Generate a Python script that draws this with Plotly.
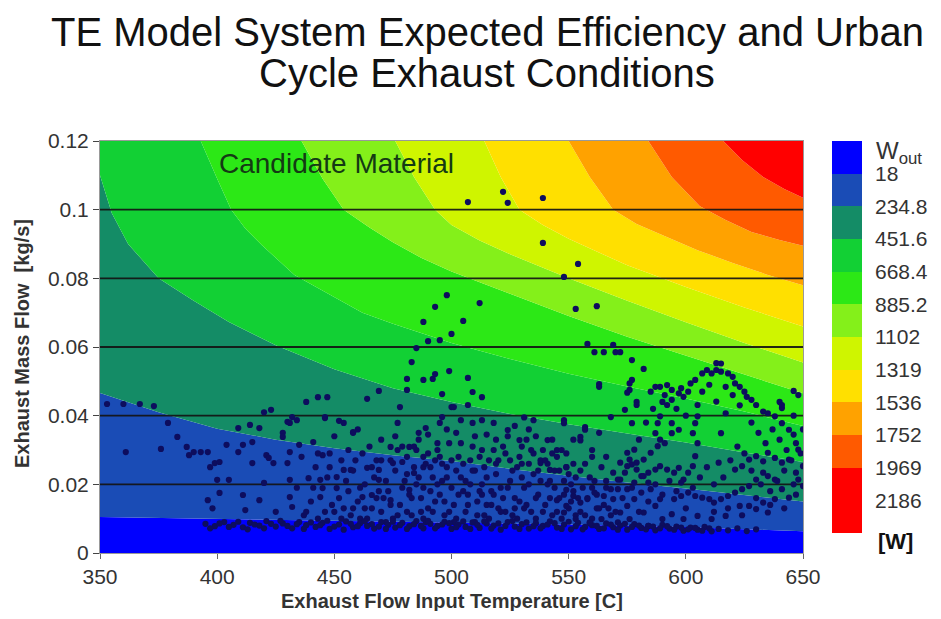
import plotly.graph_objects as go

# ---------------- contour band boundaries (T [C], mass flow [kg/s])
B18_T = [350, 400, 450, 500, 550, 600, 650]
B18_M = [0.0105, 0.0100, 0.0094, 0.0089, 0.0083, 0.0076, 0.0063]

B235_T = [350, 375, 400, 425, 450, 475, 500, 525, 550, 575, 600, 625, 650]
B235_M = [0.0466, 0.0410, 0.0362, 0.0330, 0.0305, 0.0285, 0.0268, 0.0245, 0.0225, 0.0205, 0.0188, 0.0170, 0.0150]

B452_T = [350, 355, 362, 375, 390, 405, 425, 450, 475, 500, 525, 550, 575, 600, 625, 650]
B452_M = [0.110, 0.099, 0.090, 0.080, 0.0735, 0.0673, 0.0605, 0.0535, 0.048, 0.0440, 0.0405, 0.0375, 0.0348, 0.0322, 0.0293, 0.0265]

B668_T = [350, 393, 400, 406, 412, 419, 433, 450, 462, 475, 490, 500, 525, 550, 575, 600, 625, 650]
B668_M = [0.12, 0.12, 0.109, 0.100, 0.0945, 0.0897, 0.081, 0.0745, 0.0700, 0.0668, 0.0635, 0.0612, 0.0565, 0.0522, 0.0485, 0.0450, 0.0412, 0.0370]

B885_T = [350, 436, 445, 454, 465, 475, 487, 500, 525, 550, 575, 600, 625, 650]
B885_M = [0.12, 0.12, 0.109, 0.100, 0.0948, 0.0905, 0.0860, 0.0820, 0.0755, 0.0690, 0.0630, 0.0575, 0.0518, 0.0465]

B1102_T = [350, 476, 484, 493, 500, 512, 525, 550, 575, 600, 625, 650]
B1102_M = [0.12, 0.12, 0.1095, 0.100, 0.0955, 0.0910, 0.0870, 0.0800, 0.0735, 0.0672, 0.0612, 0.0555]

B1319_T = [350, 514, 521, 529, 539, 550, 575, 600, 625, 650]
B1319_M = [0.12, 0.12, 0.1095, 0.100, 0.0955, 0.0915, 0.0838, 0.0775, 0.0715, 0.0660]

B1536_T = [350, 550, 559, 569, 579, 590, 605, 620, 635, 650]
B1536_M = [0.12, 0.12, 0.1095, 0.100, 0.0958, 0.0925, 0.0882, 0.0845, 0.0810, 0.0780]

B1752_T = [350, 584, 594, 606, 617, 628, 640, 650]
B1752_M = [0.12, 0.12, 0.1095, 0.101, 0.0970, 0.0935, 0.0912, 0.0895]

B1969_T = [350, 616, 624, 633, 642, 650]
B1969_M = [0.12, 0.12, 0.1145, 0.1095, 0.1060, 0.1035]

TOP_T = [350, 650]
TOP_M = [0.12, 0.12]

BAND_COLORS = ["#0000FF", "#1A4CB6", "#148C66", "#12D034", "#2CE816",
               "#84F01A", "#CFF500", "#FFE000", "#FFA200", "#FF5A00", "#FF0000"]
LEVEL_LABELS = ["18", "234.8", "451.6", "668.4", "885.2", "1102",
                "1319", "1536", "1752", "1969", "2186"]

X_TICKS = [350, 400, 450, 500, 550, 600, 650]
Y_TICKS = [0, 0.02, 0.04, 0.06, 0.08, 0.1, 0.12]
Y_TICK_TEXT = ["0", "0.02", "0.04", "0.06", "0.08", "0.1", "0.12"]
GRID_VALUES = [0.02, 0.04, 0.06, 0.08, 0.1]

# ---------------- urban cycle exhaust operating points (T, mass flow)
UPPER_PTS = [
    (507, 0.1022), (522, 0.1052), (524, 0.1020), (539, 0.1034), (539, 0.0903),
    (554, 0.0842), (548, 0.0804), (553, 0.0711), (562, 0.0719), (512, 0.0728),
    (505, 0.0676), (500, 0.0638), (558, 0.0609), (561, 0.0585), (565, 0.0585),
    (569, 0.0606), (570, 0.0585), (572, 0.0585), (577, 0.0562), (582, 0.0536),
    (577, 0.0504), (563, 0.0492), (507, 0.0510), (509, 0.0469), (513, 0.0454),
    (576, 0.0475), (579, 0.0440), (646, 0.0472), (640, 0.0440), (498, 0.0751),
    (493, 0.0717), (488, 0.0673), (490, 0.0617), (495, 0.0620), (485, 0.0597),
    (483, 0.0556), (499, 0.0530), (481, 0.0507), (488, 0.0504), (492, 0.0507),
    (493, 0.0521), (481, 0.0475), (469, 0.0472), (496, 0.0463), (464, 0.0449),
    (478, 0.0425), (500, 0.0425), (438, 0.0440), (443, 0.0454), (447, 0.0454),
    (353, 0.0434), (360, 0.0434), (367, 0.0434), (373, 0.0428), (379, 0.0379),
    (420, 0.0410), (423, 0.0417), (432, 0.0396), (430, 0.0382), (409, 0.0364),
    (414, 0.0373), (418, 0.0364), (446, 0.0393), (452, 0.0385), (477, 0.0379),
    (458, 0.0352), (613, 0.0553), (641, 0.0422),
]

LEFT_PTS = [
    (383, 0.0338), (361, 0.0294), (376, 0.0303), (387, 0.0309), (390, 0.0294),
    (393, 0.0294), (396, 0.0294), (388, 0.0285), (404, 0.0315), (409, 0.0294),
    (411, 0.0315), (415, 0.0323), (397, 0.0250), (399, 0.0262), (401, 0.0265),
    (400, 0.0213), (405, 0.0213), (396, 0.0154), (401, 0.0175), (411, 0.0169),
    (415, 0.0262), (421, 0.0285), (422, 0.0277), (424, 0.0262), (420, 0.0204),
    (418, 0.0154), (431, 0.0379), (428, 0.0350), (428, 0.0338), (434, 0.0387),
    (431, 0.0294), (430, 0.0262), (431, 0.0213), (431, 0.0163), (432, 0.0134),
    (435, 0.0315), (441, 0.0323), (445, 0.0285), (439, 0.0218), (444, 0.0213),
    (445, 0.0189), (444, 0.0163), (448, 0.0250), (451, 0.0221), (451, 0.0189),
    (454, 0.0242), (457, 0.0242), (458, 0.0350), (454, 0.0379), (446, 0.0396),
    (464, 0.0248), (466, 0.0250), (469, 0.0242), (462, 0.0163), (466, 0.0169),
    (469, 0.0213), (474, 0.0309), (475, 0.0262), (479, 0.0265), (482, 0.0309),
    (474, 0.0154), (482, 0.0184), (484, 0.0233), (488, 0.0250), (489, 0.0364),
    (495, 0.0379), (494, 0.0320), (488, 0.0280), (398, 0.0130), (425, 0.0120),
    (437, 0.0110), (412, 0.0125), (458, 0.0130), (450, 0.0120), (440, 0.0150),
    (442, 0.0250), (446, 0.0120), (448, 0.0290), (452, 0.0160), (455, 0.0210),
    (457, 0.0110), (459, 0.0270), (461, 0.0190), (463, 0.0130), (465, 0.0310),
    (467, 0.0220), (468, 0.0160), (434, 0.0190), (436, 0.0280), (438, 0.0120),
    (450, 0.0340), (456, 0.0300), (460, 0.0360), (464, 0.0100),
    (441, 0.019), (443, 0.029), (447, 0.022), (449, 0.014), (453, 0.027),
    (454, 0.013), (456, 0.018), (458, 0.024), (460, 0.015), (462, 0.029),
    (463, 0.020), (466, 0.013), (468, 0.027), (469, 0.018), (470, 0.033),
    (443, 0.010), (453, 0.010), (461, 0.010),
]

CORE_PTS = [
    (496, 0.0396), (504, 0.0387), (509, 0.0379), (513, 0.0387), (518, 0.0379),
    (524, 0.0358), (529, 0.0329), (535, 0.0387), (548, 0.0387), (541, 0.0329),
    (545, 0.0300), (538, 0.0262), (542, 0.0242), (557, 0.0367), (555, 0.0338),
    (549, 0.0250), (549, 0.0184), (545, 0.0154), (501, 0.0425), (507, 0.0431),
    (527, 0.0370), (531, 0.0395), (552, 0.0330), (560, 0.0300), (563, 0.0350),
    (566, 0.0280), (533, 0.0360), (515, 0.0345), (502, 0.0350), (490, 0.0345),
    (485, 0.0300),
    (470, 0.012), (473, 0.018), (476, 0.024), (478, 0.014), (481, 0.028),
    (483, 0.011), (485, 0.020), (487, 0.016), (489, 0.026), (490, 0.013),
    (492, 0.022), (494, 0.030), (495, 0.017), (497, 0.011), (498, 0.025),
    (500, 0.019), (501, 0.014), (503, 0.028), (504, 0.022), (506, 0.012),
    (507, 0.017), (509, 0.031), (510, 0.024), (511, 0.015), (513, 0.020),
    (514, 0.011), (516, 0.027), (517, 0.018), (519, 0.023), (520, 0.013),
    (522, 0.016), (523, 0.029), (525, 0.021), (526, 0.011), (528, 0.025),
    (529, 0.015), (531, 0.019), (532, 0.033), (534, 0.012), (535, 0.023),
    (537, 0.017), (538, 0.027), (540, 0.014), (541, 0.020), (543, 0.011),
    (544, 0.024), (546, 0.016), (548, 0.021), (550, 0.013), (552, 0.018),
    (555, 0.012), (558, 0.016), (562, 0.013),
    (472, 0.021), (475, 0.010), (479, 0.031), (482, 0.017), (486, 0.033),
    (488, 0.010), (491, 0.018), (493, 0.027), (496, 0.021), (499, 0.032),
    (502, 0.010), (505, 0.026), (508, 0.020), (512, 0.028), (515, 0.014),
    (518, 0.030), (521, 0.019), (524, 0.034), (527, 0.013), (530, 0.022),
    (533, 0.026), (536, 0.010), (539, 0.030), (542, 0.016), (545, 0.028),
    (547, 0.010), (549, 0.025), (551, 0.015), (553, 0.022), (556, 0.019),
    (560, 0.010), (565, 0.014), (568, 0.011),
    (471, 0.016), (474, 0.027), (477, 0.011), (480, 0.021), (484, 0.025),
    (487, 0.012), (490, 0.029), (493, 0.015), (496, 0.026), (499, 0.012),
    (502, 0.024), (505, 0.018), (508, 0.027), (511, 0.011), (514, 0.025),
    (517, 0.014), (520, 0.027), (523, 0.012), (526, 0.024), (529, 0.028),
    (532, 0.014), (535, 0.029), (538, 0.021), (541, 0.026), (544, 0.019),
    (547, 0.030), (550, 0.023), (553, 0.011), (557, 0.026), (561, 0.021),
    (486, 0.035), (498, 0.036), (510, 0.034), (519, 0.033), (530, 0.031),
    (536, 0.034), (543, 0.033), (476, 0.034), (481, 0.012), (513, 0.017),
    (470, 0.027), (472, 0.009), (474, 0.014), (477, 0.030), (479, 0.019),
    (481, 0.023), (483, 0.016), (484, 0.031), (486, 0.022), (488, 0.019),
    (489, 0.009), (491, 0.025), (492, 0.012), (494, 0.020), (495, 0.028),
    (497, 0.015), (498, 0.022), (500, 0.027), (501, 0.009), (503, 0.017),
    (504, 0.032), (506, 0.021), (507, 0.014), (509, 0.024), (510, 0.009),
    (512, 0.018), (513, 0.030), (515, 0.022), (516, 0.010), (518, 0.017),
    (519, 0.026), (521, 0.012), (522, 0.031), (524, 0.019), (525, 0.027),
    (527, 0.016), (528, 0.010), (530, 0.026), (531, 0.013), (533, 0.020),
    (534, 0.030), (536, 0.016), (537, 0.024), (539, 0.012), (540, 0.027),
    (542, 0.021), (543, 0.029), (545, 0.012), (546, 0.024), (548, 0.017),
    (549, 0.029), (551, 0.020), (552, 0.026), (554, 0.016), (555, 0.024),
    (557, 0.011), (559, 0.022), (560, 0.028), (562, 0.017), (564, 0.025),
    (566, 0.019), (567, 0.013),
]

RING_PTS = [
    (563, 0.0484), (576, 0.0494), (575, 0.0467), (579, 0.0431), (574, 0.0417),
    (568, 0.0396), (548, 0.0378), (557, 0.0359), (555, 0.0328), (577, 0.0378),
    (585, 0.0470), (587, 0.0484), (589, 0.0484), (592, 0.0489), (594, 0.0475),
    (597, 0.0465), (598, 0.0480), (601, 0.0470), (599, 0.0455), (591, 0.0460),
    (594, 0.0446), (592, 0.0431), (602, 0.0494), (604, 0.0504), (607, 0.0523),
    (609, 0.0533), (611, 0.0523), (613, 0.0533), (615, 0.0552), (615, 0.0528),
    (618, 0.0523), (620, 0.0513), (621, 0.0494), (623, 0.0484), (625, 0.0470),
    (626, 0.0455), (628, 0.0446), (630, 0.0431), (633, 0.0412), (635, 0.0407),
    (638, 0.0398), (641, 0.0378), (644, 0.0359), (646, 0.0345), (647, 0.0320),
    (648, 0.0301), (650, 0.0253), (641, 0.0431), (648, 0.0460), (617, 0.0484),
    (613, 0.0441), (617, 0.0407), (615, 0.0349), (614, 0.0263), (605, 0.0431),
    (605, 0.0398), (604, 0.0378), (603, 0.0349), (605, 0.0320), (604, 0.0282),
    (603, 0.0253), (601, 0.0234), (599, 0.0214), (598, 0.0205),
    (589, 0.0398), (588, 0.0378), (587, 0.0349), (589, 0.0330), (591, 0.0320),
    (594, 0.0349), (597, 0.0359), (594, 0.0378), (588, 0.0311), (585, 0.0292),
    (582, 0.0272), (579, 0.0263), (577, 0.0258), (575, 0.0253), (574, 0.0234),
    (572, 0.0214), (571, 0.0186), (575, 0.0186), (578, 0.0205), (581, 0.0224),
    (584, 0.0234), (587, 0.0243), (589, 0.0253), (592, 0.0243), (595, 0.0234),
    (597, 0.0248),
    (621, 0.0243), (624, 0.0253), (627, 0.0272), (630, 0.0282), (633, 0.0267),
    (635, 0.0292), (638, 0.0277), (641, 0.0263), (644, 0.0272), (647, 0.0234),
    (648, 0.0214), (650, 0.0195), (646, 0.0200), (641, 0.0186), (638, 0.0214),
    (635, 0.0224), (633, 0.0234), (630, 0.0214), (627, 0.0195), (624, 0.0186),
    (621, 0.0176), (618, 0.0166), (615, 0.0157), (612, 0.0147), (610, 0.0157),
    (607, 0.0161), (604, 0.0166), (601, 0.0176), (598, 0.0166), (595, 0.0157),
    (627, 0.0137), (633, 0.0147), (638, 0.0157), (644, 0.0161), (635, 0.0118),
    (630, 0.0128), (623, 0.0137), (617, 0.0108), (611, 0.0099), (605, 0.0108),
    (599, 0.0099), (594, 0.0113),
    (569, 0.0234), (571, 0.0214), (572, 0.0263), (575, 0.0292), (576, 0.0272),
    (578, 0.0301), (579, 0.0243), (582, 0.0224), (584, 0.0205), (585, 0.0186),
    (581, 0.0176), (578, 0.0157), (575, 0.0137), (572, 0.0118), (569, 0.0157),
    (568, 0.0186), (565, 0.0166), (561, 0.0176), (558, 0.0157), (555, 0.0147),
    (552, 0.0166), (549, 0.0137), (548, 0.0118), (553, 0.0099), (559, 0.0089),
    (564, 0.0099), (571, 0.0089), (576, 0.0099), (582, 0.0118), (587, 0.0137),
    (589, 0.0157), (590, 0.0099), (584, 0.0079),
    (580, 0.033), (583, 0.038), (586, 0.042), (590, 0.044), (596, 0.042),
    (600, 0.040), (607, 0.047), (610, 0.049), (620, 0.046), (623, 0.043),
    (628, 0.038), (631, 0.035), (634, 0.032), (637, 0.036), (640, 0.033),
    (643, 0.030), (645, 0.027), (642, 0.024), (639, 0.021), (636, 0.018),
    (632, 0.020), (628, 0.024), (625, 0.029), (622, 0.031), (619, 0.027),
    (616, 0.022), (612, 0.020), (609, 0.025), (606, 0.022), (603, 0.019),
    (600, 0.013), (596, 0.018), (593, 0.021), (590, 0.017), (587, 0.020),
    (584, 0.015), (580, 0.012), (577, 0.019), (573, 0.016), (570, 0.012),
    (566, 0.021), (563, 0.013), (560, 0.019), (612, 0.012), (618, 0.013),
    (624, 0.011), (630, 0.016), (636, 0.014), (642, 0.013), (647, 0.017),
    (649, 0.029), (650, 0.036), (646, 0.040),
]

BASE_PTS = [
    (395, 0.0085), (399, 0.0078), (403, 0.0090), (407, 0.0082), (411, 0.0075),
    (414, 0.0088), (418, 0.0080), (421, 0.0093), (425, 0.0077), (428, 0.0086),
    (432, 0.0072), (435, 0.0090), (438, 0.0081), (442, 0.0076), (445, 0.0088),
    (448, 0.0070), (452, 0.0083), (455, 0.0092), (458, 0.0075), (461, 0.0087),
    (464, 0.0079), (467, 0.0071), (470, 0.0090), (473, 0.0082), (476, 0.0074),
    (479, 0.0088), (482, 0.0078), (485, 0.0093), (488, 0.0072), (491, 0.0085),
    (494, 0.0079), (497, 0.0091), (500, 0.0070), (503, 0.0083), (506, 0.0076),
    (509, 0.0089), (512, 0.0073), (515, 0.0086), (518, 0.0080), (521, 0.0068),
    (524, 0.0090), (527, 0.0077), (530, 0.0084), (533, 0.0071), (536, 0.0087),
    (539, 0.0079), (542, 0.0092), (545, 0.0074), (548, 0.0083), (551, 0.0069),
    (554, 0.0088), (557, 0.0076), (560, 0.0081), (563, 0.0070), (566, 0.0086),
    (569, 0.0075), (572, 0.0080), (575, 0.0068), (578, 0.0084), (581, 0.0073),
    (584, 0.0079), (587, 0.0066), (590, 0.0082), (593, 0.0071), (596, 0.0077),
    (599, 0.0065), (602, 0.0074), (605, 0.0068), (608, 0.0076), (611, 0.0063),
    (614, 0.0070), (618, 0.0066), (622, 0.0072), (626, 0.0064), (630, 0.0069),
    (397, 0.0072), (401, 0.0086), (405, 0.0076), (409, 0.0091), (413, 0.0069),
    (416, 0.0083), (420, 0.0072), (423, 0.0085), (427, 0.0094), (430, 0.0079),
    (434, 0.0084), (437, 0.0070), (440, 0.0089), (444, 0.0081), (447, 0.0094),
    (450, 0.0077), (454, 0.0068), (457, 0.0085), (460, 0.0078), (463, 0.0093),
    (466, 0.0084), (469, 0.0077), (472, 0.0070), (475, 0.0091), (478, 0.0081),
    (481, 0.0070), (484, 0.0084), (487, 0.0079), (490, 0.0094), (493, 0.0072),
    (496, 0.0083), (499, 0.0087), (502, 0.0075), (505, 0.0092), (508, 0.0070),
    (511, 0.0082), (514, 0.0092), (517, 0.0071), (520, 0.0086), (523, 0.0079),
    (526, 0.0093), (529, 0.0070), (532, 0.0089), (535, 0.0078), (538, 0.0072),
    (541, 0.0083), (544, 0.0087), (547, 0.0070), (550, 0.0091), (553, 0.0078),
    (556, 0.0069), (559, 0.0087), (562, 0.0079), (565, 0.0072), (568, 0.0083),
    (571, 0.0068), (574, 0.0085), (577, 0.0076), (580, 0.0080), (583, 0.0069),
    (586, 0.0077), (589, 0.0072), (592, 0.0078), (595, 0.0068), (598, 0.0074),
    (601, 0.0069), (604, 0.0073), (607, 0.0065), (610, 0.0072),
]

# ---------------- figure geometry (page body adds an 8 px offset)
OFF = 8
W, H = 941 - 2 * OFF, 619 - 2 * OFF
ML, MR = 100 - OFF, 10
MT, MB = 141 - OFF, H - (553 - OFF)
PW = W - ML - MR
PH = H - MT - MB
FONT = "Liberation Sans, Arial, sans-serif"


def px_x(p):
    """reference-picture x pixel -> paper fraction"""
    return (p - OFF - ML) / PW


def px_y(p):
    """reference-picture y pixel -> paper fraction"""
    return (H - MB - (p - OFF)) / PH


fig = go.Figure()

fig.add_trace(go.Scatter(x=[X_TICKS[0], X_TICKS[-1]], y=[0, 0], mode="lines",
                         line=dict(width=0), hoverinfo="skip", showlegend=False))
BOUNDS = [(B18_T, B18_M), (B235_T, B235_M), (B452_T, B452_M), (B668_T, B668_M),
          (B885_T, B885_M), (B1102_T, B1102_M), (B1319_T, B1319_M),
          (B1536_T, B1536_M), (B1752_T, B1752_M), (B1969_T, B1969_M),
          (TOP_T, TOP_M)]
for (bt, bm), col in zip(BOUNDS, BAND_COLORS):
    fig.add_trace(go.Scatter(x=bt, y=bm, mode="lines", line=dict(width=0, color=col),
                             fill="tonexty", fillcolor=col, hoverinfo="skip",
                             showlegend=False))

gx, gy = [], []
for v in GRID_VALUES:
    gx += [X_TICKS[0], X_TICKS[-1], None]
    gy += [v, v, None]
fig.add_trace(go.Scatter(x=gx, y=gy, mode="lines",
                         line=dict(color="rgba(20,20,20,0.92)", width=1.8),
                         hoverinfo="skip", showlegend=False))

for grp in [UPPER_PTS, LEFT_PTS, CORE_PTS, RING_PTS, BASE_PTS]:
    fig.add_trace(go.Scatter(x=[p[0] for p in grp], y=[p[1] for p in grp],
                             mode="markers",
                             marker=dict(size=6.2, color="#0d0d5e"),
                             showlegend=False))

cbar_colors = BAND_COLORS + [BAND_COLORS[-1]]
n = len(cbar_colors)
cscale = []
for i, c in enumerate(cbar_colors):
    cscale += [[i / n, c], [(i + 1) / n, c]]
fig.add_trace(go.Heatmap(z=[[i] for i in range(n)], x=[0], y=list(range(n)),
                         colorscale=cscale, zmin=-0.5, zmax=n - 0.5,
                         showscale=False, hoverinfo="skip",
                         xaxis="x2", yaxis="y2"))

fig.update_layout(
    width=W, height=H, autosize=False,
    margin=dict(l=ML, r=MR, t=MT, b=MB, pad=0, autoexpand=False),
    paper_bgcolor="white", plot_bgcolor="white",
    font=dict(family=FONT, color="#333"),
    xaxis=dict(domain=[0, px_x(803)], range=[350, 650], tickvals=X_TICKS,
               ticks="outside", ticklen=5, tickcolor="#666", showgrid=False,
               zeroline=False, showline=True, linecolor="#999", linewidth=1,
               mirror=True, automargin=False, tickfont=dict(size=21, color="#333")),
    yaxis=dict(domain=[0, 1], range=[0, 0.12], tickvals=Y_TICKS,
               ticktext=Y_TICK_TEXT, ticks="outside", ticklen=6,
               tickcolor="#444", showgrid=False, zeroline=False,
               showline=True, linecolor="#999", linewidth=1, mirror=True,
               automargin=False, tickfont=dict(size=21, color="#333")),
    xaxis2=dict(domain=[px_x(832), px_x(862)], visible=False, anchor="y2",
                range=[-0.5, 0.5], automargin=False),
    yaxis2=dict(domain=[px_y(533), 1.0], anchor="x2", side="right",
                range=[n - 0.5, -0.5],
                tickvals=[i + 0.5 for i in range(len(LEVEL_LABELS))],
                ticktext=LEVEL_LABELS, ticks="", showgrid=False, zeroline=False,
                showline=False, ticklabelstandoff=12, automargin=False,
                tickfont=dict(size=21, color="#333")),
    showlegend=False,
)

ann = [
    dict(text="TE Model System Expected Efficiency and Urban", x=px_x(487), y=px_y(32),
         font=dict(size=40, color="#111")),
    dict(text="Cycle Exhaust Conditions", x=px_x(487), y=px_y(73),
         font=dict(size=40, color="#111")),
    dict(text="<b>Exhaust Flow Input Temperature [C]</b>", x=px_x(452), y=px_y(601),
         font=dict(size=20, color="#333")),
    dict(text="<b>Exhaust Mass Flow  [kg/s]</b>", x=px_x(22), y=px_y(344),
         textangle=-90, font=dict(size=20, color="#333")),
    dict(text="W<sub>out</sub>", x=px_x(874), y=px_y(152), xanchor="left",
         font=dict(size=24, color="#333")),
    dict(text="<b>[W]</b>", x=px_x(876), y=px_y(541), xanchor="left",
         font=dict(size=22, color="#111")),
]
for a in ann:
    a.setdefault("xanchor", "center")
    fig.add_annotation(xref="paper", yref="paper", yanchor="middle",
                       showarrow=False, **a)
fig.add_annotation(xref="x", yref="y", x=451, y=0.1135, text="Candidate Material",
                   showarrow=False, font=dict(size=28, color="#143a14"),
                   xanchor="center", yanchor="middle")

fig.write_html("out.html")
